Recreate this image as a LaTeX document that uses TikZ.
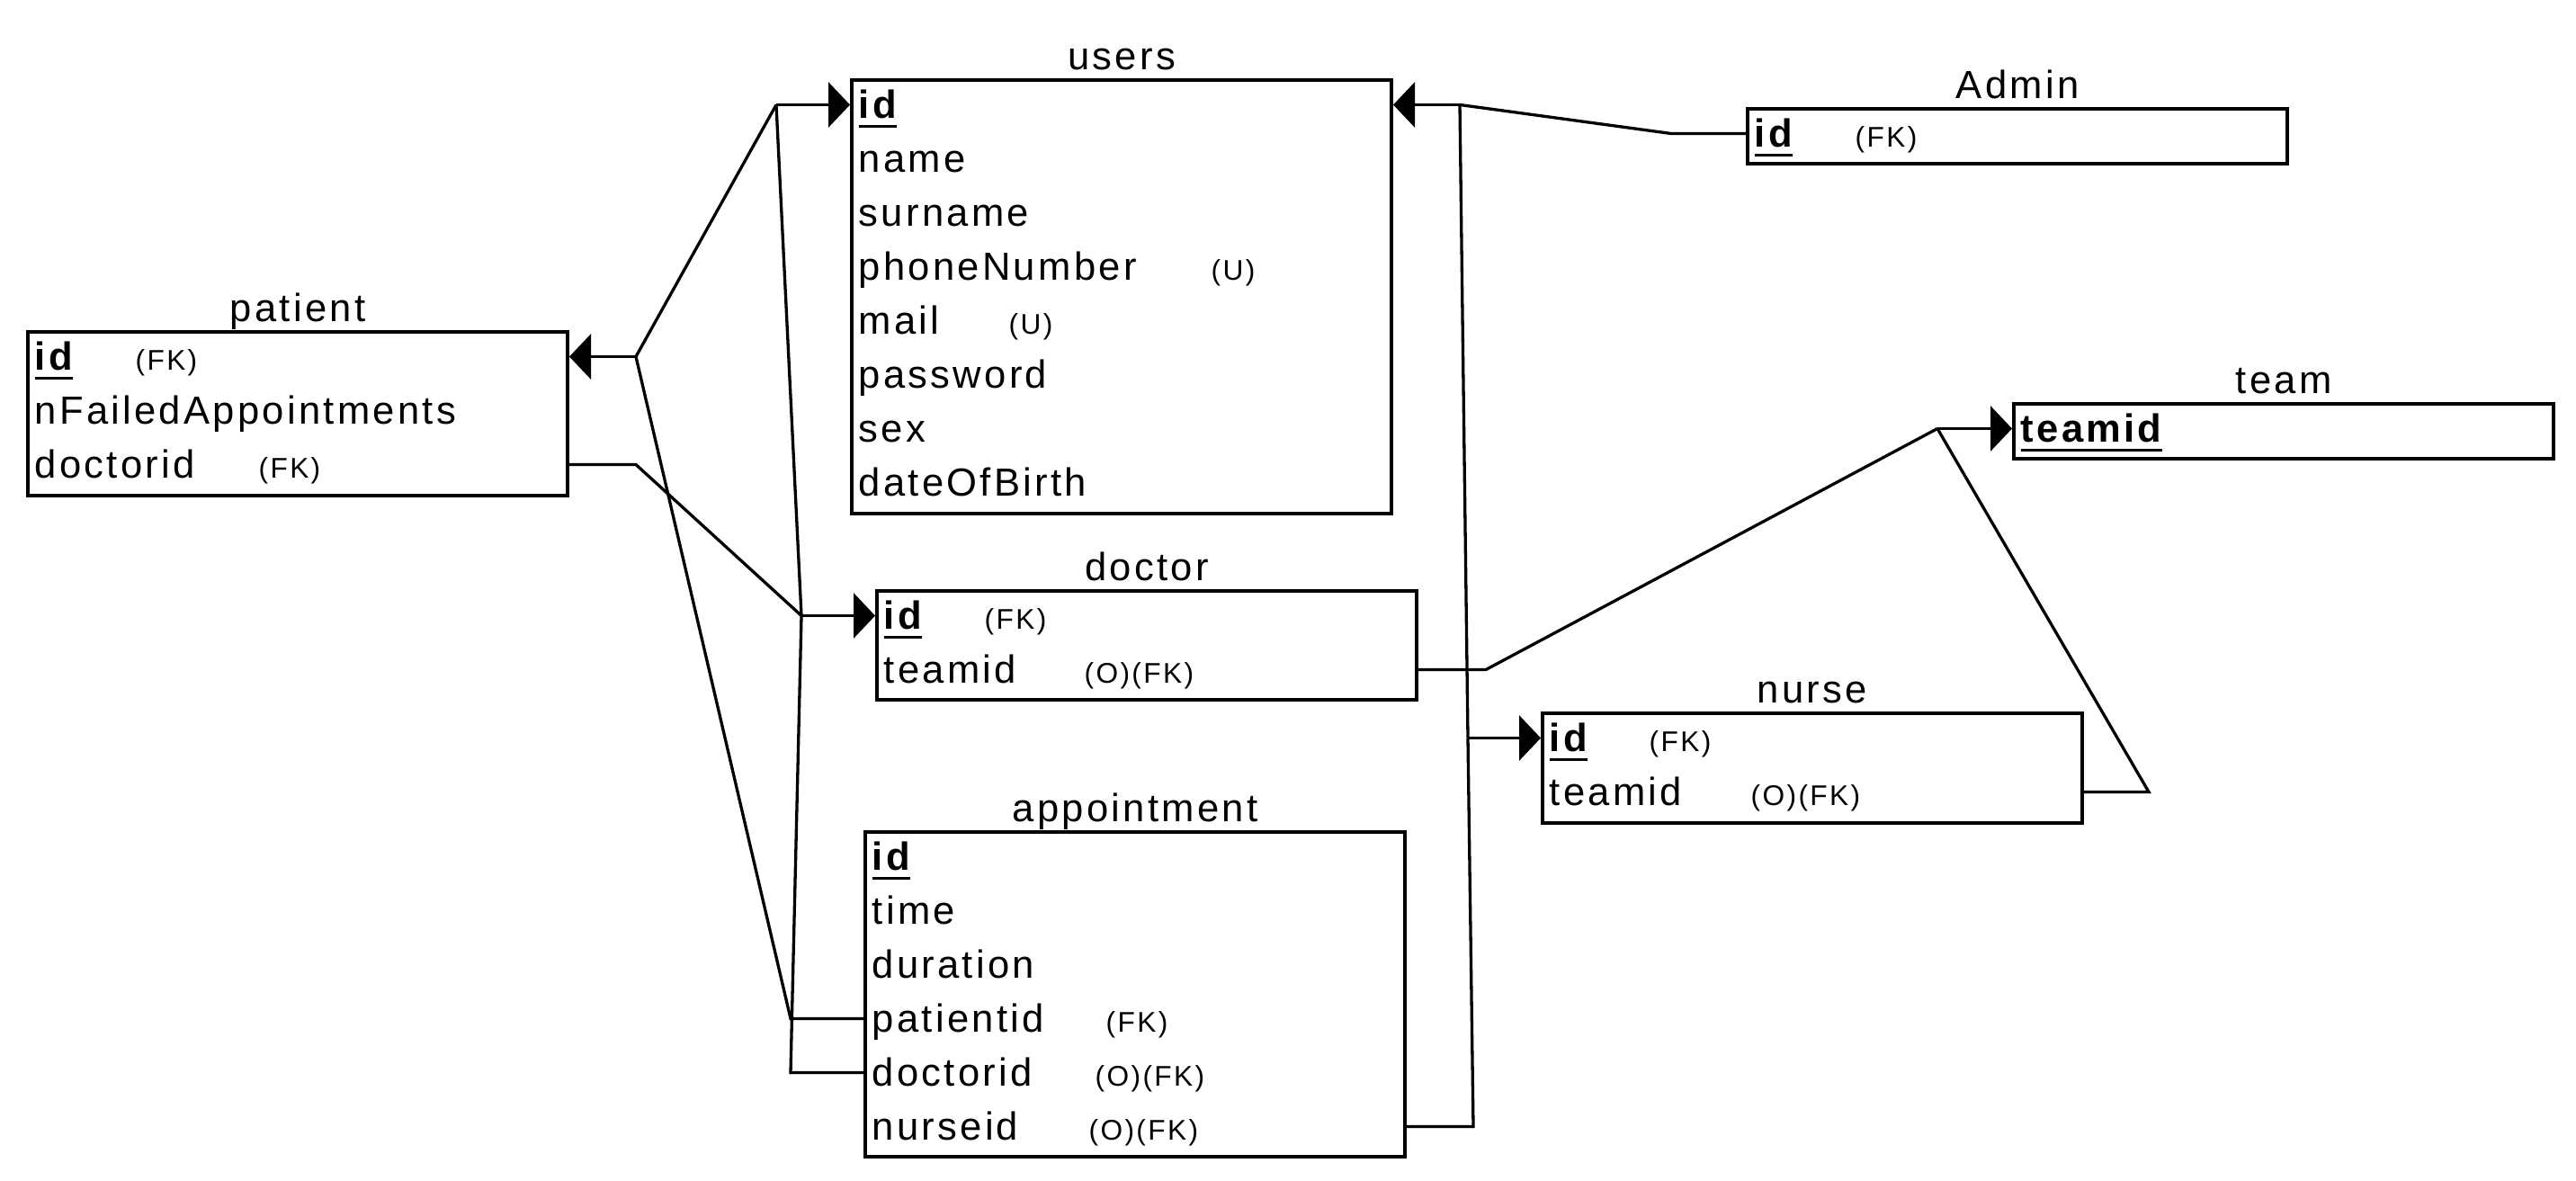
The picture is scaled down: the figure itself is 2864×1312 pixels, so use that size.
\documentclass[tikz,border=0pt]{standalone}
\usepackage{fontspec}
\setmainfont{Liberation Sans}[LetterSpace=7.5]
\usetikzlibrary{positioning,arrows.meta}

\newsavebox{\pkbox}
\newcommand{\pkey}[1]{\sbox{\pkbox}{\bfseries #1}\rlap{\rule[-1.1mm]{\wd\pkbox}{0.35mm}}\usebox{\pkbox}}
\newcommand{\fieldrow}[3]{\makebox[#1][l]{#2}{\fontsize{9pt}{10pt}\selectfont #3}}

\begin{document}
\begin{tikzpicture}[x=0.1mm,y=-0.1mm,
    tbl/.style={draw,line width=0.4mm,minimum width=60mm,anchor=north west,inner sep=0pt},
    title/.style={font=\fontsize{12.4pt}{14pt}\selectfont,anchor=base,inner sep=0pt},
    row/.style={font=\fontsize{12.4pt}{14pt}\selectfont,anchor=base west,inner sep=0pt,text height=2.9mm,text depth=0pt},
    link/.style={line width=0.33mm},
    fk/.style={-{Triangle[length=2.4mm,width=5mm]}}]
    \useasboundingbox (0,0) rectangle (2864,1312);

    % tables
    \node[tbl,minimum height=18.2mm] (patient) at (29,367) {};
    \node[tbl,minimum height=48.2mm] (users) at (945,87) {};
    \node[tbl,minimum height=6.1mm] (admin) at (1941,119) {};
    \node[tbl,minimum height=6.1mm] (team) at (2237,447) {};
    \node[tbl,minimum height=12.1mm] (doctor) at (973,655) {};
    \node[tbl,minimum height=12.2mm] (nurse) at (1713,791) {};
    \node[tbl,minimum height=36.1mm] (appointment) at (960,923) {};

    \node[title,above=1mm of patient,anchor=base] (patientT) {patient};
    \node[title,above=1mm of users,anchor=base] (usersT) {users};
    \node[title,above=1mm of admin,anchor=base] (adminT) {Admin};
    \node[title,above=1mm of team,anchor=base] (teamT) {team};
    \node[title,above=1mm of doctor,anchor=base] (doctorT) {doctor};
    \node[title,above=1mm of nurse,anchor=base] (nurseT) {nurse};
    \node[title,above=1mm of appointment,anchor=base] (appointmentT) {appointment};

    % rows
    \node[row] (pid) at ([shift={(9,44)}]patient.north west) {\fieldrow{11.2mm}{\pkey{id}}{(FK)}};
    \node[row] (pfail) at ([yshift=-6mm]pid.base west) {nFailedAppointments};
    \node[row] (pdoc) at ([yshift=-6mm]pfail.base west) {\fieldrow{24.9mm}{doctorid}{(FK)}};

    \node[row] (uid) at ([shift={(9,44)}]users.north west) {\pkey{id}};
    \node[row] (uname) at ([yshift=-6mm]uid.base west) {name};
    \node[row] (usur) at ([yshift=-6mm]uname.base west) {surname};
    \node[row] (uphone) at ([yshift=-6mm]usur.base west) {\fieldrow{39.2mm}{phoneNumber}{(U)}};
    \node[row] (umail) at ([yshift=-6mm]uphone.base west) {\fieldrow{16.7mm}{mail}{(U)}};
    \node[row] (upass) at ([yshift=-6mm]umail.base west) {password};
    \node[row] (usex) at ([yshift=-6mm]upass.base west) {sex};
    \node[row] (udob) at ([yshift=-6mm]usex.base west) {dateOfBirth};

    \node[row] (adid) at ([shift={(9,44)}]admin.north west) {\fieldrow{11.2mm}{\pkey{id}}{(FK)}};

    \node[row] (tid) at ([shift={(9,44)}]team.north west) {\pkey{teamid}};

    \node[row] (did) at ([shift={(9,44)}]doctor.north west) {\fieldrow{11.2mm}{\pkey{id}}{(FK)}};
    \node[row] (dteam) at ([yshift=-6mm]did.base west) {\fieldrow{22.3mm}{teamid}{(O)(FK)}};

    \node[row] (nid) at ([shift={(9,44)}]nurse.north west) {\fieldrow{11.1mm}{\pkey{id}}{(FK)}};
    \node[row] (nteam) at ([yshift=-6mm]nid.base west) {\fieldrow{22.4mm}{teamid}{(O)(FK)}};

    \node[row] (aid) at ([shift={(9,44)}]appointment.north west) {\pkey{id}};
    \node[row] (atime) at ([yshift=-6mm]aid.base west) {time};
    \node[row] (adur) at ([yshift=-6mm]atime.base west) {duration};
    \node[row] (apat) at ([yshift=-6mm]adur.base west) {\fieldrow{26mm}{patientid}{(FK)}};
    \node[row] (adoc) at ([yshift=-6mm]apat.base west) {\fieldrow{24.8mm}{doctorid}{(O)(FK)}};
    \node[row] (anur) at ([yshift=-6mm]adoc.base west) {\fieldrow{24.1mm}{nurseid}{(O)(FK)}};

    % junctions
    \coordinate (jUL) at (863,0 |- uid);
    \coordinate (jUR) at (1623,0 |- uid);
    \coordinate (jPat) at (707,0 |- pid);
    \coordinate (jPdoc) at (707,0 |- pdoc);
    \coordinate (jDoc) at (891,0 |- did);
    \coordinate (jAdm) at (1858,0 |- adid);
    \coordinate (jNur) at (1632,0 |- nid);
    \coordinate (jApat) at (879,0 |- apat);
    \coordinate (jAdoc) at (879,0 |- adoc);
    \coordinate (jAnur) at (1638,0 |- anur);
    \coordinate (jTeam) at (2154,0 |- tid);
    \coordinate (jDteam) at (1652,0 |- dteam);
    \coordinate (jNteam) at (2389,0 |- nteam);

    % links
    \draw[link,fk] (jUL) -- (users.west |- uid);
    \draw[link,fk] (jUR) -- (users.east |- uid);
    \draw[link,fk] (jPat) -- (patient.east |- pid);
    \draw[link,fk] (jDoc) -- (doctor.west |- did);
    \draw[link,fk] (jNur) -- (nurse.west |- nid);
    \draw[link,fk] (jTeam) -- (team.west |- tid);
    \draw[link] (jPat) -- (jUL);
    \draw[link] (jDoc) -- (jUL);
    \draw[link] (patient.east |- pdoc) -- (jPdoc) -- (jDoc);
    \draw[link] (appointment.west |- apat) -- (jApat) -- (jPat);
    \draw[link] (appointment.west |- adoc) -- (jAdoc) -- (jDoc);
    \draw[link] (appointment.east |- anur) -- (jAnur) -- (jNur);
    \draw[link] (jNur) -- (jUR);
    \draw[link] (admin.west |- adid) -- (jAdm) -- (jUR);
    \draw[link] (doctor.east |- dteam) -- (jDteam) -- (jTeam);
    \draw[link] (nurse.east |- nteam) -- (jNteam) -- (jTeam);
\end{tikzpicture}
\end{document}
